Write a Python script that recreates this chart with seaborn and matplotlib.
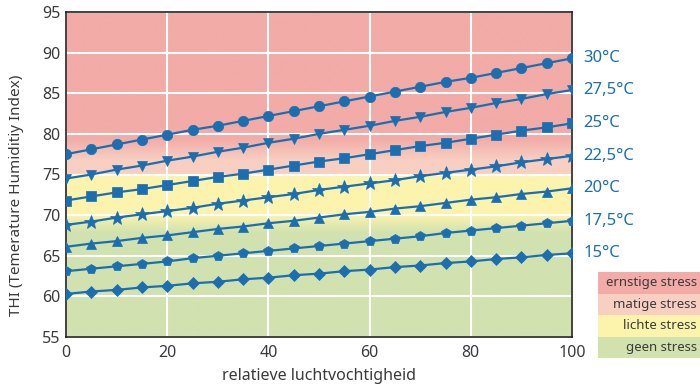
import matplotlib
matplotlib.use("Agg")
import matplotlib.pyplot as plt
from matplotlib.colors import LinearSegmentedColormap
import numpy as np
import pandas as pd
import seaborn as sns

#%% data
rh = [0, 5, 10, 15, 20, 25, 30, 35, 40, 45, 50, 55, 60, 65, 70, 75, 80, 85, 90, 95, 100]

thi_30 = [77.5, 78.1, 78.7, 79.3, 79.9, 80.5, 81.0, 81.6, 82.2, 82.8, 83.4,
          84.0, 84.6, 85.2, 85.8, 86.4, 86.9, 87.5, 88.1, 88.7, 89.3]
thi_275 = [74.5, 75.0, 75.6, 76.1, 76.7, 77.2, 77.8, 78.3, 78.9, 79.4, 80.0,
           80.5, 81.0, 81.6, 82.1, 82.7, 83.2, 83.8, 84.3, 84.9, 85.4]
thi_25 = [71.8, 72.3, 72.8, 73.2, 73.7, 74.2, 74.7, 75.1, 75.6, 76.1, 76.6,
          77.0, 77.5, 78.0, 78.5, 78.9, 79.4, 79.9, 80.4, 80.8, 81.3]
thi_225 = [68.8, 69.2, 69.7, 70.1, 70.5, 70.9, 71.4, 71.8, 72.2, 72.6, 73.1,
           73.5, 73.9, 74.3, 74.8, 75.2, 75.6, 76.0, 76.5, 76.9, 77.3]
thi_20 = [66.1, 66.5, 66.8, 67.2, 67.5, 67.9, 68.3, 68.6, 69.0, 69.3, 69.7,
          70.1, 70.4, 70.8, 71.1, 71.5, 71.9, 72.2, 72.6, 72.9, 73.3]
thi_175 = [63.1, 63.4, 63.7, 64.0, 64.3, 64.7, 65.0, 65.3, 65.6, 65.9, 66.2,
           66.5, 66.8, 67.1, 67.4, 67.8, 68.1, 68.4, 68.7, 69.0, 69.3]
thi_15 = [60.3, 60.6, 60.8, 61.1, 61.3, 61.6, 61.8, 62.1, 62.3, 62.6, 62.8,
          63.1, 63.3, 63.6, 63.8, 64.1, 64.3, 64.6, 64.8, 65.1, 65.3]

temp_labels = ['30°C', '27,5°C', '25°C', '22,5°C', '20°C', '17,5°C', '15°C']
series = [thi_30, thi_275, thi_25, thi_225, thi_20, thi_175, thi_15]
stress_labels = ['ernstige stress', 'matige stress', 'lichte stress', 'geen stress']

#%% long form for seaborn
df = pd.concat([pd.DataFrame({'rh': rh, 'thi': s, 'temp': t})
                for s, t in zip(series, temp_labels)])

blue = '#1b6fb0'
txt = '#3a3a3a'
c_red, c_pink, c_yel, c_grn = '#f2aba6', '#f8cfc1', '#fcf3ad', '#d1e2af'
markers = ['o', 'v', 's', '*', '^', 'p', 'D']
msizes = [7.5, 7.5, 6.5, 10.5, 7.5, 7.5, 6.5]

sns.set_style('white')
plt.rcParams['font.family'] = ['Noto Sans', 'DejaVu Sans']

fig = plt.figure(figsize=(7, 3.88), dpi=100)
ax = fig.add_axes([66/700, 1-337/388, (572-66)/700, (337-12)/388])

# background zones as a vertical gradient
def f(v):
    return (v - 55) / 40
cmap = LinearSegmentedColormap.from_list('thi', [
    (0, c_grn), (f(67.8), c_grn), (f(70.0), c_yel), (f(74.9), c_yel),
    (f(75.1), c_pink), (f(76.8), c_pink), (f(79.5), c_red), (1, c_red)])
grad = np.linspace(0, 1, 400).reshape(-1, 1)
ax.imshow(grad, cmap=cmap, extent=[0, 100, 55, 95], origin='lower',
          aspect='auto', zorder=0, interpolation='bilinear')

for t, m, ms in zip(temp_labels, markers, msizes):
    sns.lineplot(data=df[df.temp == t], x='rh', y='thi', color=blue,
                 marker=m, markersize=ms, markeredgecolor=blue,
                 markeredgewidth=0.5, linewidth=1.6, ax=ax, zorder=3)

ax.set_xlim(0, 100)
ax.set_ylim(55, 95)
ax.set_xticks([0, 20, 40, 60, 80, 100])
ax.set_yticks(range(55, 96, 5))
ax.set_axisbelow(True)
ax.grid(True, color='white', linewidth=1.5)
ax.tick_params(length=0, labelsize=11.5, colors=txt)
ax.tick_params(axis='x', pad=6)
ax.tick_params(axis='y', pad=4)
for sp in ax.spines.values():
    sp.set_color('#222222')
    sp.set_linewidth(1.2)
ax.set_xlabel('relatieve luchtvochtigheid', fontsize=11.5, color=txt)
ax.set_ylabel('THI (Temerature Humiditiy Index)', fontsize=11, color=txt)
ax.xaxis.set_label_coords(0.5, -0.094)
ax.yaxis.set_label_coords(-0.083, 0.437)

for s, t in zip(series, temp_labels):
    ax.text(102.2, s[-1], t, color=blue, fontsize=12, va='center', ha='left',
            clip_on=False)

# stress legend boxes
lax = fig.add_axes([598/700, 1-358/388, 102/700, 86/388])
lax.set_xlim(0, 1)
lax.set_ylim(0, 4)
lax.axis('off')
for i, (lab, col) in enumerate(zip(stress_labels, [c_red, c_pink, c_yel, c_grn])):
    lax.axhspan(3 - i, 4 - i, color=col, lw=0)
    lax.text(0.97, 3.5 - i, lab, ha='right', va='center', fontsize=9.5, color=txt)

fig.savefig('out.png', dpi=100)
